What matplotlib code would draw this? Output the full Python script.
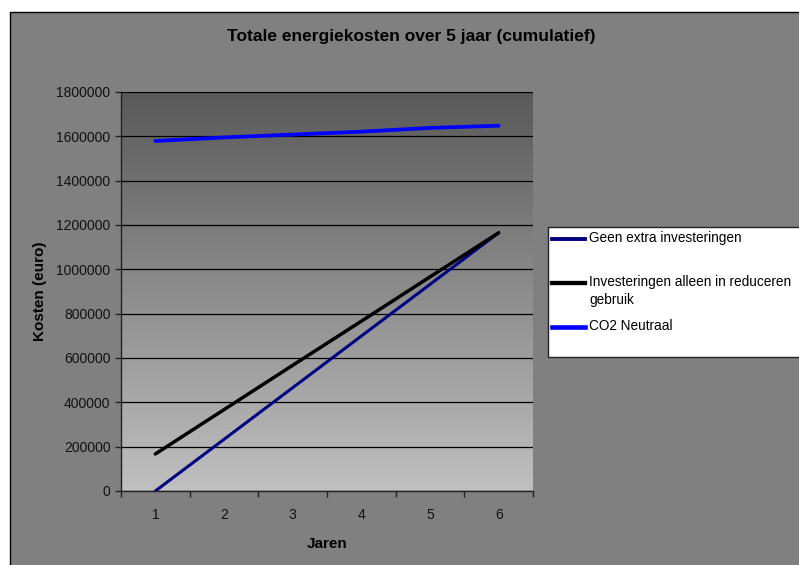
import matplotlib.pyplot as plt
import numpy as np
from matplotlib.patches import Rectangle
from matplotlib.lines import Line2D

plt.rcParams['font.family'] = ['Liberation Sans', 'DejaVu Sans']

# Cumulative energy costs per year.
jaren = [1, 2, 3, 4, 5, 6]
geen_extra = [0, 233000, 466000, 699000, 932000, 1165000]
alleen_reduceren = [167000, 367000, 567000, 766000, 966000, 1165000]
co2_neutraal = [1579000, 1595000, 1608000, 1621000, 1638000, 1648000]

labels = ['Geen extra investeringen',
          'Investeringen alleen in reduceren\ngebruik',
          'CO2 Neutraal']
colors = ['#000080', '#000000', '#0000ff']
widths = [2.2, 2.5, 2.7]
y_ticks = list(range(0, 1800001, 200000))

W, H = 799, 565
fig = plt.figure(figsize=(W / 100, H / 100), dpi=100)
fig.patch.set_facecolor('white')

# Grey chart area with a thin black border.
fig.add_artist(Rectangle((10 / W, -0.1), 1.2, 1 - 12 / H + 0.1,
                         transform=fig.transFigure, facecolor='#808080',
                         edgecolor='black', linewidth=1, zorder=0))

ax = fig.add_axes([121 / W, 1 - 491 / H, (533 - 121) / W, (491 - 92) / H])
ax.set_facecolor('none')

# Vertical gradient in the plot area.
grad = np.linspace(0, 1, 256).reshape(-1, 1)
ax.imshow(grad, cmap=plt.matplotlib.colors.LinearSegmentedColormap.from_list(
    'g', ['#c0c0c0', '#595959']), origin='lower', aspect='auto',
    extent=[0, 1, 0, 1], transform=ax.transAxes, zorder=0)

for vals, lab, c, lw in zip([geen_extra, alleen_reduceren, co2_neutraal],
                            labels, colors, widths):
    ax.plot(jaren, vals, color=c, linewidth=lw, solid_capstyle='round',
            zorder=3)

ax.set_xlim(0.5, 6.5)
ax.set_ylim(0, 1800000)
ax.set_yticks(y_ticks)
ax.set_yticklabels([str(v) for v in y_ticks], fontsize=10, color='#111111')
ax.yaxis.grid(True, color='black', linewidth=0.9)
ax.set_axisbelow(False)

ax.set_xticks(np.arange(0.5, 7, 1))
ax.set_xticklabels([])
ax.set_xticks(jaren, minor=True)
ax.set_xticklabels([str(j) for j in jaren], minor=True, fontsize=10,
                   color='#111111')
ax.tick_params(axis='x', which='minor', length=0, pad=12)
ax.tick_params(axis='both', which='major', length=4, width=1,
               color='#222222', direction='out')

for s in ['top', 'right']:
    ax.spines[s].set_visible(False)
for s in ['left', 'bottom']:
    ax.spines[s].set_color('#222222')
    ax.spines[s].set_linewidth(1)

ax.set_xlabel('Jaren', fontsize=11, fontweight='bold', labelpad=11)
ax.set_ylabel('Kosten (euro)', fontsize=11, fontweight='bold', labelpad=7)

fig.text(411 / W, 1 - 37 / H, 'Totale energiekosten over 5 jaar (cumulatief)',
         ha='center', va='center', fontsize=12.5, fontweight='bold')

# Legend box
fig.add_artist(Rectangle((548 / W, 1 - 357 / H), 0.5, (357 - 227) / H,
                         transform=fig.transFigure, facecolor='white',
                         edgecolor='#222222', linewidth=1, zorder=5))
for yy, lab, c, lw in zip([239, 283, 327], labels, colors, widths):
    fig.add_artist(Line2D([552 / W, 585 / W], [1 - yy / H] * 2,
                          transform=fig.transFigure, color=c,
                          linewidth=lw + 0.6, zorder=6))
    fig.text(589 / W, 1 - (yy - 8) / H, lab, ha='left', va='top',
             fontsize=9.8, zorder=6, linespacing=1.38)

fig.savefig('out.png', dpi=100)
